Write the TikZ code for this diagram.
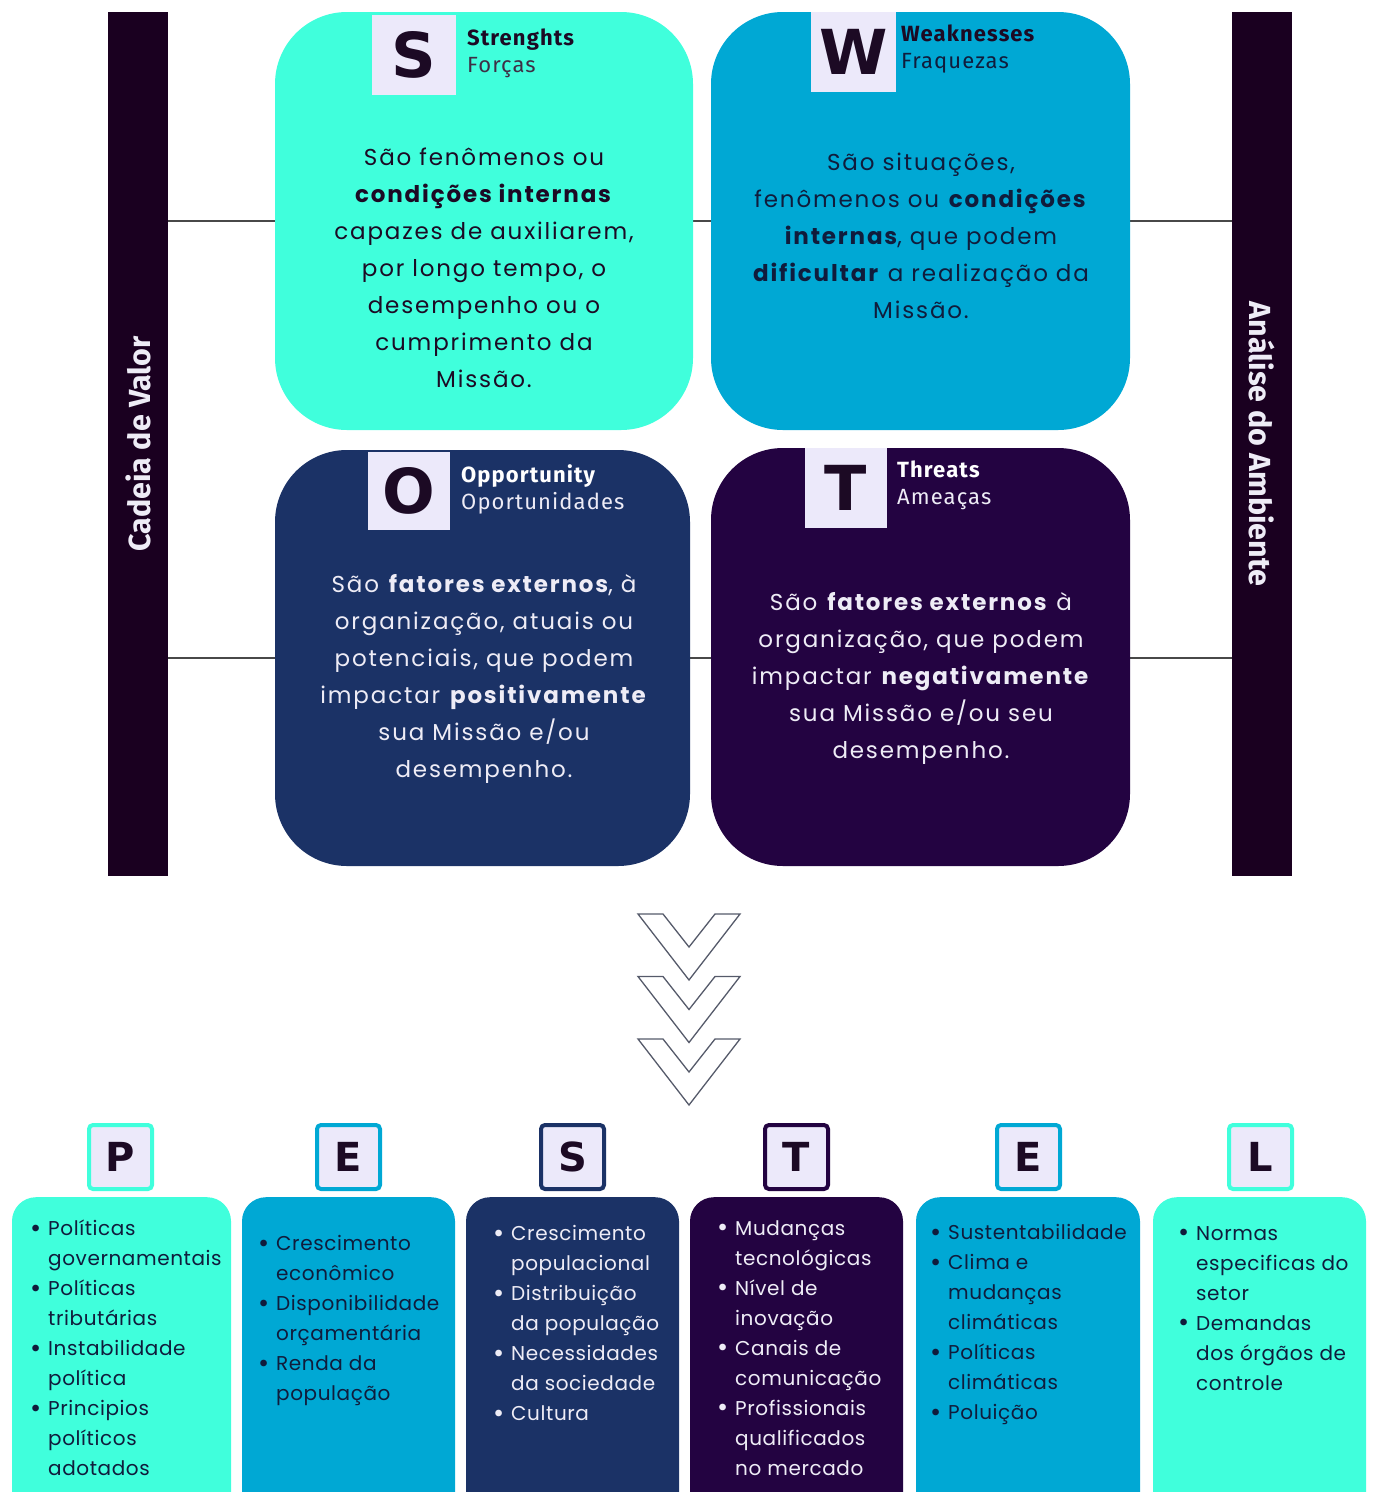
\documentclass[tikz,border=0pt]{standalone}
\usepackage{fontspec}
\usepackage{xcolor}
\setmainfont{Poppins}[LetterSpace=3]
\newfontfamily\bodyfont{Poppins}[LetterSpace=8]
\newfontfamily\headfont{Fira Sans}[LetterSpace=5]
\newfontfamily\condfont{Fira Sans}
\newfontfamily\letterfont{DejaVu Sans}
\usepackage{tikz}
\usetikzlibrary{positioning}

\definecolor{turq}{RGB}{64,255,220}
\definecolor{ocean}{RGB}{0,168,212}
\definecolor{navy}{RGB}{27,50,102}
\definecolor{grape}{RGB}{35,3,65}
\definecolor{barcol}{RGB}{26,0,32}
\definecolor{lav}{RGB}{236,233,250}
\definecolor{ink}{RGB}{28,10,36}
\definecolor{inkblue}{RGB}{16,28,60}
\definecolor{paper}{RGB}{238,236,246}
\definecolor{linecol}{RGB}{72,72,72}
\definecolor{chevcol}{RGB}{85,90,106}

\newcommand{\blt}{\makebox[18pt][l]{\raisebox{-1.8pt}{\scalebox{1.35}{•}}}}
\newcommand{\ind}{\hspace*{18pt}}

\begin{document}
\begin{tikzpicture}[x=1pt,y=1pt,yscale=-1,
  swotbox/.style={rounded corners=72pt, minimum width=418pt, minimum height=418pt, inner sep=0pt},
  bar/.style={fill=barcol, minimum width=60pt, minimum height=864pt, inner sep=0pt},
  barlabel/.style={text=paper, inner sep=0pt, font=\condfont\bfseries\fontsize{30.5}{31}\selectfont},
  sqbox/.style={fill=lav, inner sep=0pt, text=ink, font=\letterfont\bfseries\fontsize{62}{62}\selectfont},
  head/.style={anchor=north west, align=left, inner sep=0pt, font=\headfont\fontsize{22}{27}\selectfont},
  body/.style={align=center, inner sep=0pt, font=\bodyfont\fontsize{23}{37}\selectfont},
  pestbox/.style={rounded corners=24pt, minimum width=213pt, minimum height=340pt, inner sep=0pt, anchor=north},
  pestsq/.style={fill=lav, rounded corners=4pt, line width=4pt, minimum width=63pt, minimum height=64pt, inner sep=0pt, text=ink, font=\letterfont\bfseries\fontsize{40}{40}\selectfont},
  pestlist/.style={anchor=north west, align=left, inner sep=0pt, font=\fontsize{20}{30}\selectfont},
  conn/.style={draw=linecol, line width=2.5pt},
  chev/.style={draw=chevcol, fill=white, line width=1.3pt, line join=miter}]
\useasboundingbox (0,0) rectangle (1375,1492);
\clip (0,0) rectangle (1375,1492);

% side bars
\node[bar] (lbar) at (138,444) {};
\node[bar] (rbar) at (1262,444) {};
\node[barlabel, rotate=90] (lbartxt) at (lbar.center) {Cadeia de Valor};
\node[barlabel, rotate=-90] (rbartxt) at (rbar.center) {Análise do Ambiente};

% connectors behind the SWOT boxes
\coordinate (rowS) at (0,221);
\coordinate (rowO) at (0,658);
\draw[conn] (lbar.east |- rowS) -- (rbar.west |- rowS);
\draw[conn] (lbar.east |- rowO) -- (rbar.west |- rowO);

% SWOT boxes
\node[swotbox, fill=turq] (sbox) at (484,221) {};
\node[swotbox, fill=ocean, minimum width=419pt] (wbox) at (920.5,221) {};
\node[swotbox, fill=navy, minimum width=415pt, minimum height=416pt] (obox) at (482.5,658) {};
\node[swotbox, fill=grape, minimum width=419pt, minimum height=418pt] (tbox) at (920.5,657) {};

% letter squares
\node[sqbox, minimum width=84pt, minimum height=80pt] (ssq) at (414,55) {S};
\node[sqbox, minimum width=85pt, minimum height=80pt] (wsq) at (853.5,52) {W};
\node[sqbox, minimum width=82pt, minimum height=78pt] (osq) at (409,491) {O};
\node[sqbox, minimum width=82pt, minimum height=80pt] (tsq) at (846,488) {T};

% headers
\node[head, text=ink] (shead) at (467,29) {\textbf{Strenghts}\\{\color{ink!85}Forças}};
\node[head, text=ink] (whead) at (901,25) {\textbf{Weaknesses}\\{\color{inkblue}Fraquezas}};
\node[head, text=white] (ohead) at (461,464) {\textbf{Opportunity}\\{\color{paper}Oportunidades}};
\node[head, text=white] (thead) at (897,461) {\textbf{Threats}\\{\color{paper}Ameaças}};

% texts
\node[body, text=ink] (stxt) at (484,268) {São fenômenos ou\\\textbf{condições internas}\\capazes de auxiliarem,\\por longo tempo, o\\desempenho ou o\\cumprimento da\\Missão.};
\node[body, text=inkblue] (wtxt) at (921,236) {São situações,\\fenômenos ou \textbf{condições}\\\textbf{internas}, que podem\\\textbf{dificultar} a realização da\\Missão.};
\node[body, text=paper] (otxt) at (484,679) {São \textbf{fatores externos}, à\\organização, atuais ou\\potenciais, que podem\\impactar \textbf{positivamente}\\sua Missão e/ou\\desempenho.};
\node[body, text=paper] (ttxt) at (921,678.5) {São \textbf{fatores externos} à\\organização, que podem\\impactar \textbf{negativamente}\\sua Missão e/ou seu\\desempenho.};

% chevrons
\foreach \dy in {0,62.5,125}
  \draw[chev] (638,914+\dy) -- (663,914+\dy) -- (689,947+\dy) -- (715,914+\dy) -- (740,914+\dy) -- (689,980+\dy) -- cycle;

% PESTEL boxes
\node[pestbox, fill=turq, minimum width=219pt] (pbox) at (121.5,1197) {};
\node[pestbox, fill=ocean] (e1box) at (348.5,1197) {};
\node[pestbox, fill=navy] (s2box) at (572.5,1197) {};
\node[pestbox, fill=grape] (t2box) at (796.5,1197) {};
\node[pestbox, fill=ocean, minimum width=224pt] (e2box) at (1028,1197) {};
\node[pestbox, fill=turq] (lbox) at (1259.5,1197) {};

\node[pestsq, draw=turq] (psq) at (120.5,1157) {P};
\node[pestsq, draw=ocean] (e1sq) at (348.5,1157) {E};
\node[pestsq, draw=navy] (s2sq) at (572.5,1157) {S};
\node[pestsq, draw=grape] (t2sq) at (796.5,1157) {T};
\node[pestsq, draw=ocean] (e2sq) at (1028.5,1157) {E};
\node[pestsq, draw=turq] (lsq) at (1260.5,1157) {L};

% PESTEL lists
\node[pestlist, text=inkblue] (plist) at (30,1220) {\blt Políticas\\\ind governamentais\\\blt Políticas\\\ind tributárias\\\blt Instabilidade\\\ind política\\\blt Principios\\\ind políticos\\\ind adotados};
\node[pestlist, text=inkblue] (e1list) at (258,1235) {\blt Crescimento\\\ind econômico\\\blt Disponibilidade\\\ind orçamentária\\\blt Renda da\\\ind população};
\node[pestlist, text=paper] (s2list) at (493,1225) {\blt Crescimento\\\ind populacional\\\blt Distribuição\\\ind da população\\\blt Necessidades\\\ind da sociedade\\\blt Cultura};
\node[pestlist, text=paper] (t2list) at (717,1220) {\blt Mudanças\\\ind tecnológicas\\\blt Nível de\\\ind inovação\\\blt Canais de\\\ind comunicação\\\blt Profissionais\\\ind qualificados\\\ind no mercado};
\node[pestlist, text=inkblue] (e2list) at (930,1224) {\blt Sustentabilidade\\\blt Clima e\\\ind mudanças\\\ind climáticas\\\blt Políticas\\\ind climáticas\\\blt Poluição};
\node[pestlist, text=inkblue] (llist) at (1178,1226) {\blt Normas\\\ind especificas do\\\ind setor\\\blt Demandas\\\ind dos órgãos de\\\ind controle};
\end{tikzpicture}
\end{document}
